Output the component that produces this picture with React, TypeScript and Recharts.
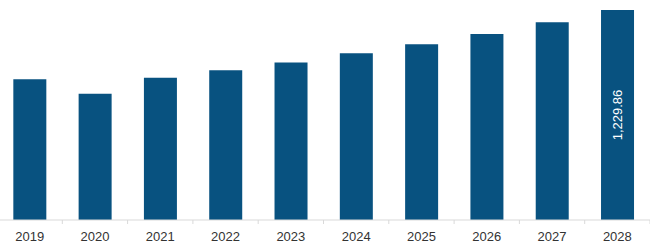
import { BarChart, Bar, XAxis, YAxis, LabelList } from 'recharts';

const years = ['2019', '2020', '2021', '2022', '2023', '2024', '2025', '2026', '2027', '2028'];
const values = [824, 740, 833, 877, 923, 976, 1029, 1089, 1158, 1229.86];
// only the last bar carries a value label
const shownLabels = [false, false, false, false, false, false, false, false, false, true];

const data = years.map((year, i) => ({ year, value: values[i], showLabel: shownLabels[i] }));

const CHART_W = 653;
const CHART_H = 249;
const BAR_COLOR = '#085280';
const band = CHART_W / years.length;

const YearTick = (props: any) => {
  const { x, y, payload, index } = props;
  return (
    <g>
      <line x1={x + band / 2} x2={x + band / 2} y1={y} y2={y + 4} stroke="#d9d9d9" />
      {index === 0 && <line x1={x - band / 2} x2={x - band / 2} y1={y} y2={y + 4} stroke="#d9d9d9" />}
      <text x={x} y={y + 21} textAnchor="middle" fontSize={13} fill="#333" fontFamily="'Liberation Sans', Arial, sans-serif">
        {payload.value}
      </text>
    </g>
  );
};

const ValueLabel = (props: any) => {
  const { x, y, width, height, value, index } = props;
  if (!shownLabels[index]) return null;
  const cx = x + width / 2;
  const cy = y + height / 2;
  const text = value.toLocaleString('en-US', { minimumFractionDigits: 2, maximumFractionDigits: 2 });
  return (
    <text
      x={cx}
      y={cy}
      transform={`rotate(-90 ${cx} ${cy})`}
      textAnchor="middle"
      dominantBaseline="central"
      fontSize={13}
      fill="#ffffff"
      fontFamily="'Liberation Sans', Arial, sans-serif"
    >
      {text}
    </text>
  );
};

export default function App() {
  return (
    <div style={{ position: 'absolute', left: -3, top: 0 }}>
      <BarChart
        width={CHART_W}
        height={CHART_H}
        data={data}
        margin={{ top: 10, right: 0, bottom: 0, left: 0 }}
        barCategoryGap="25%"
      >
        <XAxis
          dataKey="year"
          height={29}
          tickLine={false}
          tickSize={0}
          tickMargin={0}
          axisLine={{ stroke: '#d9d9d9' }}
          tick={<YearTick />}
          interval={0}
        />
        <YAxis hide domain={[0, 'dataMax']} />
        <Bar dataKey="value" fill={BAR_COLOR} isAnimationActive={false}>
          <LabelList dataKey="value" content={<ValueLabel />} />
        </Bar>
      </BarChart>
    </div>
  );
}
